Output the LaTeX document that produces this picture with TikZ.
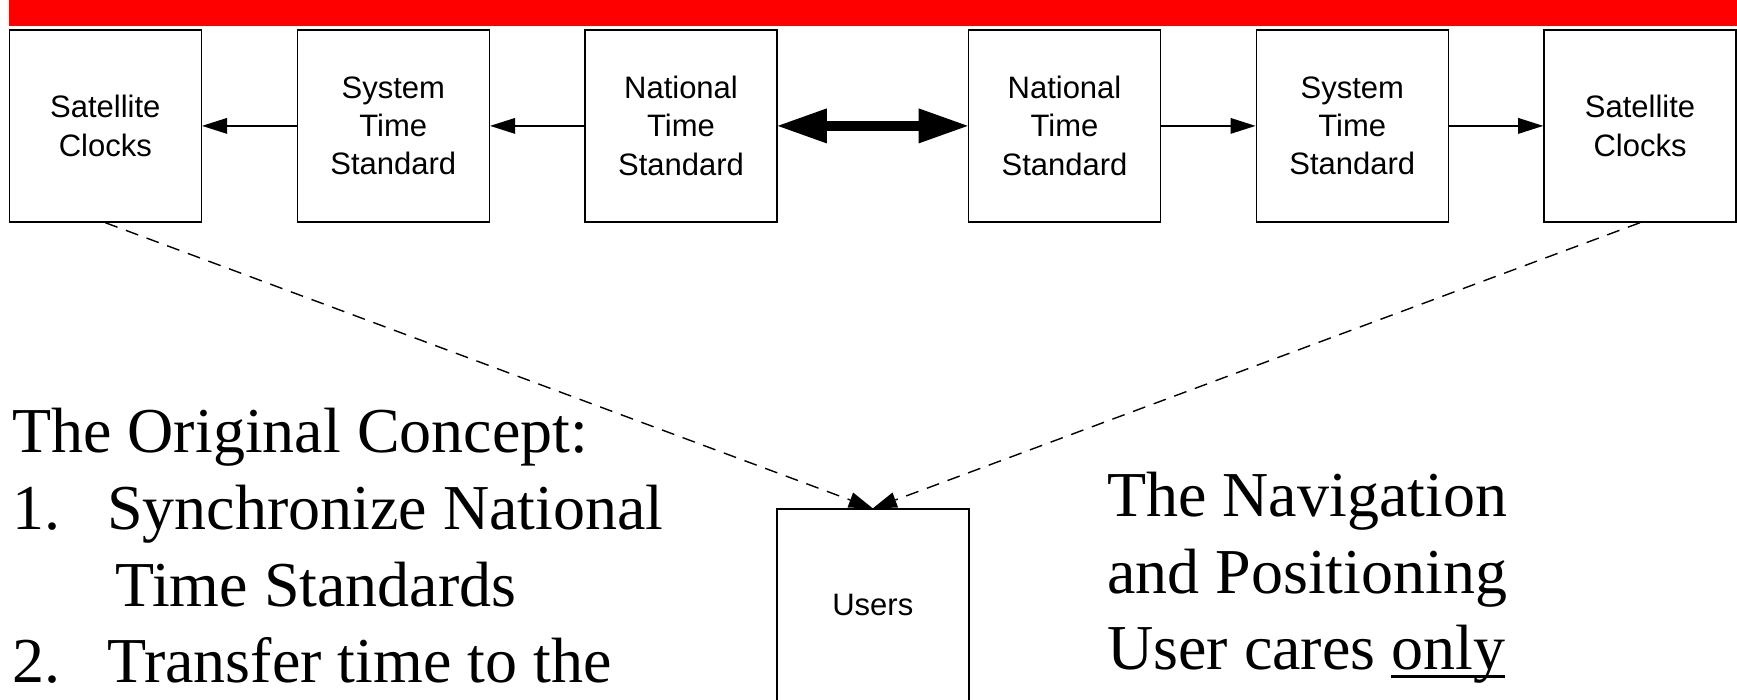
\documentclass[tikz,border=0pt]{standalone}
\usepackage{fontspec}
\setmainfont{Liberation Serif}
\newfontfamily\boxfont{Liberation Sans}
\usetikzlibrary{arrows.meta}

\begin{document}
\begin{tikzpicture}[x=1pt,y=-1pt,
  blockbox/.style={draw=black, line width=1.6pt, minimum width=192pt, minimum height=192pt,
    inner sep=0pt, align=center, font=\boxfont\fontsize{31}{38.3}\selectfont},
  flow/.style={line width=1.8pt, -{Triangle[length=25pt,width=16pt,line width=0pt]}},
  link/.style={line width=10pt,
    {Triangle[length=49pt,width=35pt,line width=0pt]}-{Triangle[length=49pt,width=35pt,line width=0pt]}},
  feed/.style={line width=1.4pt, dash pattern=on 13pt off 9pt,
    -{Triangle[length=24pt,width=16pt,line width=0pt]}},
  textline/.style={anchor=base west, inner sep=0pt, font=\fontsize{64}{76.5}\selectfont}
]
\useasboundingbox (0,0) rectangle (1737,700);

% title bar
\fill[red] (9,0) rectangle (1737,25.7);

% top row of blocks
\node[blockbox] (sat1) at (105.3,125.9) {Satellite\\Clocks};
\node[blockbox] (sys1) at (393.3,125.9) {System\\Time\\Standard};
\node[blockbox] (nat1) at (681,125.9) {National\\Time\\Standard};
\node[blockbox] (nat2) at (1064.5,125.9) {National\\Time\\Standard};
\node[blockbox] (sys2) at (1352.3,125.9) {System\\Time\\Standard};
\node[blockbox] (sat2) at (1640,125.9) {Satellite\\Clocks};

% users block
\node[blockbox] (users) at (872.8,605.2) {Users};

% connectors
\draw[flow] (sys1.west) -- (sat1.east);
\draw[flow] (nat1.west) -- (sys1.east);
\draw[link] (nat1.east) -- (nat2.west);
\draw[flow] (nat2.east) -- (sys2.west);
\draw[flow] (sys2.east) -- (sat2.west);
\draw[feed] (sat1.south) -- (users.north);
\draw[feed] (sat2.south) -- (users.north);

% left text
\node[textline] (c0) at (12,452.7) {The Original Concept:};
\node[textline] (c1) at (12,529.3) {\makebox[95pt][l]{1.}Synchronize National};
\node[textline] (c2) at (115,606) {Time Standards};
\node[textline] (c3) at (12,682.7) {\makebox[95pt][l]{2.}Transfer time to the};

% right text
\node[textline] (r0) at (1107,516.7) {The Navigation};
\node[textline] (r1) at (1107,593.3) {and Positioning};
\node[textline] (r2) at (1107,669.3) {User cares \setbox0\hbox{only}\rlap{\rule[-9pt]{\wd0}{3.4pt}}\box0};
\end{tikzpicture}
\end{document}
